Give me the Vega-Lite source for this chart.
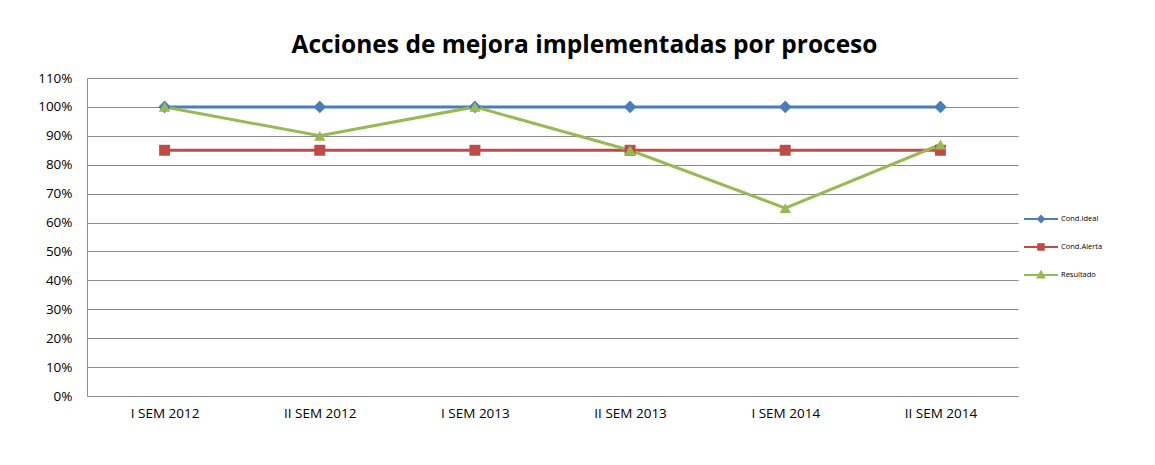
{
  "$schema": "https://vega.github.io/schema/vega-lite/v6.json",
  "autosize": {"type": "none"},
  "width": 931,
  "height": 318,
  "padding": {"left": 87, "top": 78, "right": 137, "bottom": 69},
  "background": "white",
  "config": {
    "view": {"stroke": null},
    "font": "Open Sans",
    "axis": {"labelFont": "Open Sans", "labelColor": "#000000", "labelFontSize": 13.5, "domainColor": "#8c8c8c", "gridColor": "#8c8c8c", "gridWidth": 1, "ticks": false, "title": null}
  },
  "title": {
    "text": "Acciones de mejora implementadas por proceso",
    "font": "Open Sans",
    "fontSize": 24.5,
    "fontWeight": "bold",
    "color": "#000000",
    "anchor": "middle",
    "dx": 32,
    "offset": 13
  },
  "data": {
    "values": [
      {"periodo": "I SEM 2012", "serie": "Cond.Ideal", "valor": 1.0},
      {"periodo": "II SEM 2012", "serie": "Cond.Ideal", "valor": 1.0},
      {"periodo": "I SEM 2013", "serie": "Cond.Ideal", "valor": 1.0},
      {"periodo": "II SEM 2013", "serie": "Cond.Ideal", "valor": 1.0},
      {"periodo": "I SEM 2014", "serie": "Cond.Ideal", "valor": 1.0},
      {"periodo": "II SEM 2014", "serie": "Cond.Ideal", "valor": 1.0},
      {"periodo": "I SEM 2012", "serie": "Cond.Alerta", "valor": 0.85},
      {"periodo": "II SEM 2012", "serie": "Cond.Alerta", "valor": 0.85},
      {"periodo": "I SEM 2013", "serie": "Cond.Alerta", "valor": 0.85},
      {"periodo": "II SEM 2013", "serie": "Cond.Alerta", "valor": 0.85},
      {"periodo": "I SEM 2014", "serie": "Cond.Alerta", "valor": 0.85},
      {"periodo": "II SEM 2014", "serie": "Cond.Alerta", "valor": 0.85},
      {"periodo": "I SEM 2012", "serie": "Resultado", "valor": 1.0},
      {"periodo": "II SEM 2012", "serie": "Resultado", "valor": 0.9},
      {"periodo": "I SEM 2013", "serie": "Resultado", "valor": 1.0},
      {"periodo": "II SEM 2013", "serie": "Resultado", "valor": 0.85},
      {"periodo": "I SEM 2014", "serie": "Resultado", "valor": 0.65},
      {"periodo": "II SEM 2014", "serie": "Resultado", "valor": 0.87}
    ]
  },
  "encoding": {
    "x": {
      "field": "periodo", "type": "ordinal", "sort": null,
      "scale": {"type": "point", "padding": 0.5},
      "axis": {"labelAngle": 0, "labelPadding": 10, "grid": false}
    },
    "y": {
      "field": "valor", "type": "quantitative",
      "scale": {"domain": [0, 1.1], "nice": false},
      "axis": {"values": [0, 0.1, 0.2, 0.3, 0.4, 0.5, 0.6, 0.7, 0.8, 0.9, 1.0, 1.1], "format": ".0%", "labelPadding": 15, "grid": true, "domain": true}
    },
    "color": {
      "field": "serie", "type": "nominal", "sort": null,
      "scale": {"domain": ["Cond.Ideal", "Cond.Alerta", "Resultado"], "range": ["#4A7EBB", "#BE4B48", "#98B954"]},
      "legend": {
        "title": null,
        "orient": "none",
        "legendX": 943,
        "legendY": 130,
        "labelFont": "Open Sans",
        "labelFontSize": 7.5,
        "labelColor": "#000000",
        "symbolSize": 400,
        "symbolStrokeWidth": 2,
        "symbolType": "M-1.7,0L1.7,0",
        "rowPadding": 10,
        "labelOffset": 9,
        "encode": {
          "symbols": {
            "update": {
              "shape": {"signal": "datum.value === 'Cond.Ideal' ? 'M-1.7,0L1.7,0M0,-0.3L0.3,0L0,0.3L-0.3,0Z' : datum.value === 'Cond.Alerta' ? 'M-1.7,0L1.7,0M-0.28,-0.28L0.28,-0.28L0.28,0.28L-0.28,0.28Z' : 'M-1.7,0L1.7,0M0,-0.32L0.32,0.26L-0.32,0.26Z'"},
              "strokeWidth": {"value": 2}
            }
          }
        }
      }
    }
  },
  "layer": [
    {"mark": {"type": "line", "strokeWidth": 3}},
    {
      "transform": [{"filter": "datum.serie === 'Cond.Ideal'"}],
      "mark": {"type": "point", "filled": true, "opacity": 1, "size": 160, "shape": "diamond"}
    },
    {
      "transform": [{"filter": "datum.serie === 'Cond.Alerta'"}],
      "mark": {"type": "point", "filled": true, "opacity": 1, "size": 120, "shape": "square"}
    },
    {
      "transform": [{"filter": "datum.serie === 'Resultado'"}],
      "mark": {"type": "point", "filled": true, "opacity": 1, "size": 130, "shape": "triangle-up"}
    }
  ]
}
